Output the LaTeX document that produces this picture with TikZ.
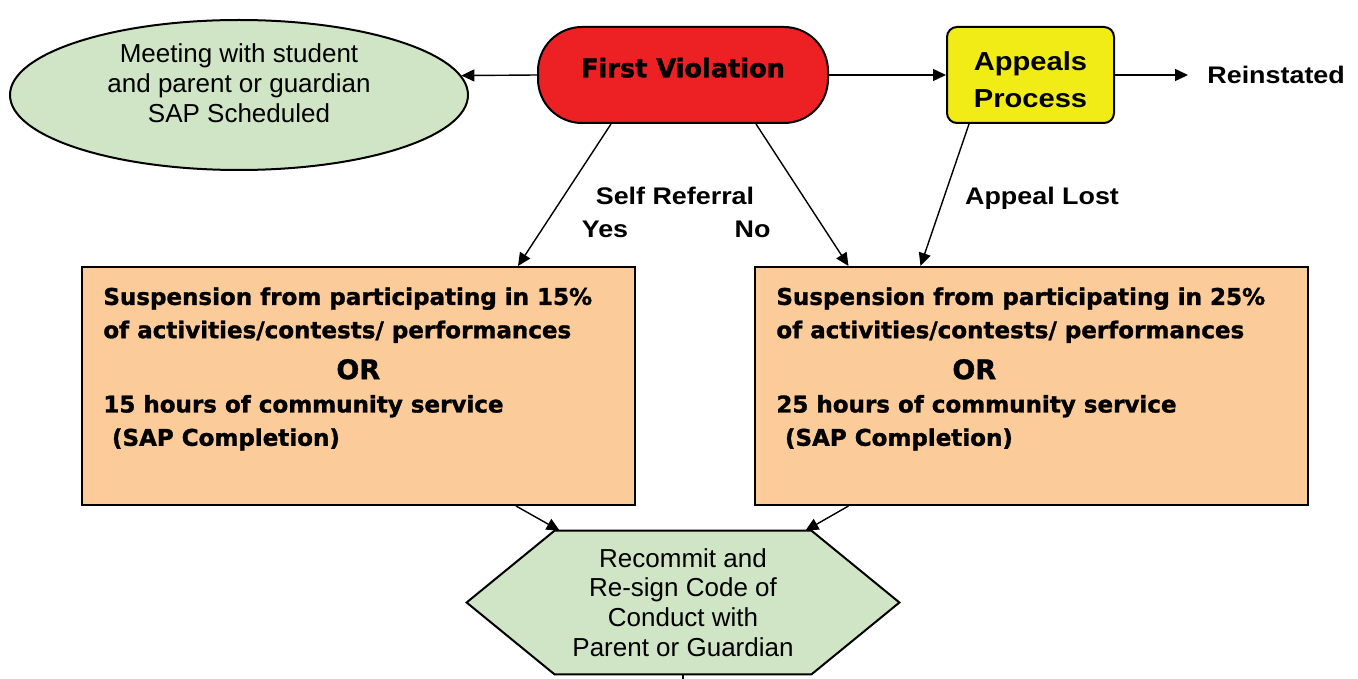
\documentclass[tikz,border=0pt]{standalone}
\usepackage{fontspec}
\setmainfont{Liberation Sans}
\newfontfamily\heavyfont{DejaVu Sans}[BoldFeatures={FakeBold=1.3}]
\newfontfamily\lblfont{Liberation Sans}[FakeStretch=1.12]
\usetikzlibrary{shapes.geometric,arrows.meta,backgrounds}
\definecolor{sapgreen}{RGB}{208,229,197}
\definecolor{violred}{RGB}{237,32,36}
\definecolor{appyellow}{RGB}{242,236,22}
\definecolor{peach}{RGB}{251,203,153}

\begin{document}
\begin{tikzpicture}[x=0.5pt,y=-0.5pt]
\tikzset{
  arr/.style={draw,line width=0.7pt,-{Triangle[length=6.5pt,width=6pt]}},
  lbl/.style={font=\lblfont\bfseries\fontsize{12}{14}\selectfont,inner sep=0pt,anchor=base},
  plain/.style={font=\fontsize{13}{14.9}\selectfont,align=center,inner sep=0pt},
  penalty/.style={draw,line width=1pt,fill=peach,minimum width=276.5pt,minimum height=119pt,inner sep=0pt},
  penaltytext/.style={font=\heavyfont\bfseries\fontsize{11.5}{16.65}\selectfont,align=left,inner sep=0pt,anchor=north west},
}
\useasboundingbox (0,0) rectangle (1358,679);

\node[ellipse,draw,line width=1pt,fill=sapgreen,minimum width=229pt,minimum height=75pt,inner sep=0pt] (meet) at (239,95) {};
\node[plain] (meettxt) at (239,83) {Meeting with student\\and parent or guardian\\SAP Scheduled};

\node[draw,line width=1pt,fill=violred,rounded corners=22pt,minimum width=145pt,minimum height=48pt,
  font=\heavyfont\bfseries\fontsize{12.8}{15}\selectfont,text height=9.5pt,text depth=7.2pt] (fv) at (683,75) {First Violation};
\node[draw,line width=1pt,fill=appyellow,rounded corners=5pt,minimum width=83.5pt,minimum height=48pt,
  align=center,font=\lblfont\bfseries\fontsize{13}{18.5}\selectfont] (appeal) at (1030.5,75) {\rule{0pt}{14.5pt}Appeals\\Process};
\node[lbl,anchor=west,inner xsep=9.5pt] (reinst) at (1188,75) {Reinstated};

\node[lbl] (selfref) at (675,205) {Self Referral};
\node[lbl] (yes) at (605,237) {Yes};
\node[lbl] (no) at (752.5,237) {No};
\node[lbl] (lost) at (1042,205) {Appeal Lost};

\node[penalty] (low) at (358.5,386) {};
\node[penaltytext] (lowtxt) at (103,287) {Suspension from participating in 15\%\\of activities/contests/ performances\\[3.85pt]%
  \hspace*{116.5pt}{\fontsize{13.5}{16}\selectfont OR}\\15 hours of community service\\\hspace*{4.3pt}(SAP Completion)};
\node[penalty] (high) at (1031,386) {};
\node[penaltytext] (hightxt) at (776,287) {Suspension from participating in 25\%\\of activities/contests/ performances\\[3.85pt]%
  \hspace*{88pt}{\fontsize{13.5}{16}\selectfont OR}\\25 hours of community service\\\hspace*{4.3pt}(SAP Completion)};

\node[plain,minimum width=128pt,minimum height=71.5pt] (recommit) at (683,602.5) {Recommit and\\Re-sign Code of\\Conduct with\\Parent or Guardian};
\begin{scope}[on background layer]
\draw[line width=1pt,fill=sapgreen] (recommit.north west) -- (recommit.north east) -- ([xshift=44pt]recommit.east)
  -- (recommit.south east) -- (recommit.south west) -- ([xshift=-44pt]recommit.west) -- cycle;
\end{scope}
\coordinate (next) at (683,679);

\draw[arr] (fv.west) -- (meet.5);
\draw[arr] (fv.east) -- (appeal.west);
\draw[arr] (appeal.east) -- (reinst.west);
\draw[arr] ([xshift=37pt]fv.south west) -- ([xshift=-59pt]low.north east);
\draw[arr] ([xshift=-36.5pt]fv.south east) -- ([xshift=47.5pt]high.north west);
\draw[arr] ([xshift=11.5pt]appeal.south west) -- ([xshift=83.5pt]high.north west);
\draw[arr] ([xshift=-60pt]low.south east) -- ([xshift=2.5pt]recommit.north west);
\draw[arr] ([xshift=47.5pt]high.south west) -- ([xshift=-3pt]recommit.north east);
\draw[line width=0.7pt] (recommit.south) -- (next);
\end{tikzpicture}
\end{document}
